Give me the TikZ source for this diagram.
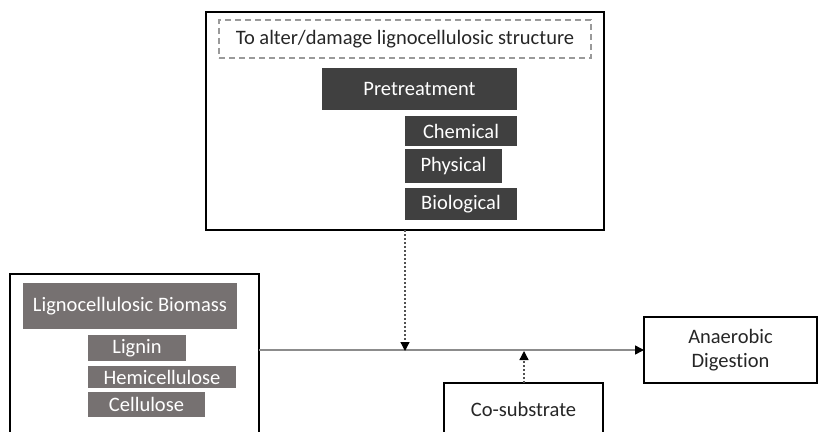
\documentclass[tikz,border=0pt]{standalone}
\usepackage{fontspec}
\setmainfont{Carlito}[Ligatures=NoCommon]
\usetikzlibrary{arrows.meta}
\definecolor{darkbox}{HTML}{404040}
\definecolor{greybox}{HTML}{767171}
\definecolor{dashgrey}{HTML}{9A9A9A}
\definecolor{linegrey}{HTML}{8C8C8C}
\definecolor{txt}{HTML}{262626}
\begin{document}
\begin{tikzpicture}[x=1pt,y=-1pt,
  every node/.style={font=\fontsize{20.5}{24}\selectfont, inner sep=0pt, outer sep=0pt},
  frame/.style={draw=black, line width=2.8pt, fill=white, text=txt},
  darkfill/.style={fill=darkbox, text=white},
  greyfill/.style={fill=greybox, text=white},
  dashbox/.style={draw=dashgrey, line width=1.4pt, dash pattern=on 6pt off 4pt, text=txt},
  flow/.style={draw=linegrey, line width=1.5pt, -{Triangle[color=black,length=9pt,width=9pt]}},
  dotflow/.style={draw=txt!80, line width=1.3pt, dash pattern=on 2pt off 2pt, -{Triangle[color=black,length=9pt,width=9pt,sep=0pt]}}
]
\useasboundingbox (0,0) rectangle (819,431);
\clip (0,0) rectangle (819,431);
\fill[white] (0,0) rectangle (819,431);

% top box
\node[frame, minimum width=398pt, minimum height=218pt] (top) at (405,121) {};
\node[dashbox, minimum width=372pt, minimum height=38pt] (aim) at (405,39) {To alter/damage lignocellulosic structure};
\node[darkfill, minimum width=195pt, minimum height=42pt] (pre) at (419.5,89) {Pretreatment};
\node[darkfill, minimum width=112pt, minimum height=30pt] (chem) at (461,131) {Chemical};
\node[darkfill, minimum width=97pt, minimum height=34pt] (phys) at (453.5,166) {Physical};
\node[darkfill, minimum width=112pt, minimum height=32pt] (bio) at (461,204) {Biological};

% left box
\node[frame, minimum width=249pt, minimum height=180pt] (left) at (134.5,364) {};
\node[greyfill, minimum width=214pt, minimum height=46pt] (lcb) at (130,306) {Lignocellulosic Biomass};
\node[greyfill, minimum width=98pt, minimum height=26pt] (lig) at (137,348) {Lignin};
\node[greyfill, minimum width=148pt, minimum height=22pt] (hemi) at (162,377) {Hemicellulose};
\node[greyfill, minimum width=117pt, minimum height=25pt] (cell) at (146.5,404.5) {Cellulose};

% anaerobic digestion
\node[frame, minimum width=173pt, minimum height=66pt, align=center] (ad) at (730.5,350) {Anaerobic\\Digestion};

% co-substrate
\node[frame, minimum width=159pt, minimum height=52pt] (cosub) at (523.5,409) {Co-substrate};

% connectors
\coordinate (m1) at (405,351);
\coordinate (m2) at (524,351);
\draw[flow] (left.east |- ad.west) -- (ad.west);
\draw[dotflow] (top.south -| m1) -- (m1);
\draw[dotflow] (cosub.north -| m2) -- (m2);
\end{tikzpicture}
\end{document}
